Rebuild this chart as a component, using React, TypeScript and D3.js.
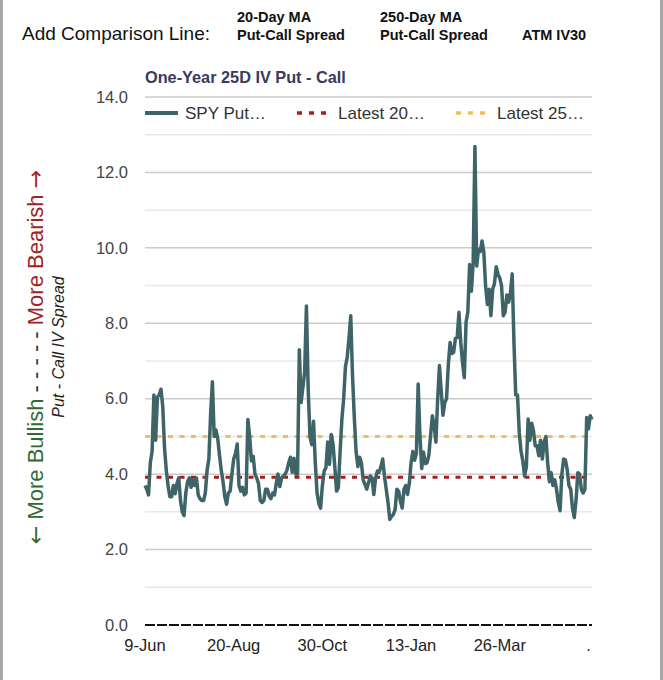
import React from "react";
import * as d3 from "d3";

const spread: number[] = [
  3.7, 3.6, 3.45, 4.3, 4.6, 6.1, 4.9, 6.05, 6.1, 6.25,
  5.8, 4.7, 4.1, 3.7, 3.4, 3.4, 3.7, 3.48, 3.75, 3.9,
  3.3, 3.0, 2.9, 3.5, 3.8, 3.9, 3.65, 3.85, 3.7, 3.9,
  3.45, 3.35, 3.3, 3.3, 3.5, 4.1, 4.4, 5.6, 6.45, 5.0,
  5.17, 4.95, 4.5, 4.1, 3.8, 3.4, 3.2, 3.5, 3.55, 4.0,
  4.4, 4.55, 4.8, 3.7, 3.55, 3.65, 3.45, 3.5, 5.45, 5.0,
  4.35, 4.47, 4.0, 3.9, 3.75, 3.3, 3.25, 3.3, 3.6, 3.6,
  3.42, 3.35, 3.5, 3.45, 3.75, 4.0, 3.67, 3.9, 3.95, 4.0,
  4.1, 4.3, 4.45, 4.05, 4.42, 4.0, 4.0, 7.3, 5.9, 6.3,
  6.7, 8.46, 6.25, 5.0, 4.78, 5.4, 4.3, 3.5, 3.22, 3.1,
  3.7, 4.08, 4.17, 4.85, 4.26, 5.05, 4.8, 4.2, 3.55, 3.64,
  4.6, 5.46, 6.0, 6.85, 7.1, 7.6, 8.2, 6.6, 5.5, 4.6,
  4.2, 4.45, 4.3, 3.85, 3.73, 3.6, 3.77, 3.95, 3.9, 3.46,
  3.9, 4.08, 4.05, 4.2, 4.4, 3.95, 3.6, 3.25, 2.8, 2.88,
  2.93, 3.06, 3.6, 3.55, 3.28, 3.1, 3.6, 3.7, 3.46, 3.75,
  4.3, 4.6, 4.37, 4.55, 6.39, 5.03, 4.15, 4.59, 4.28, 4.3,
  4.5, 5.03, 5.55, 5.3, 4.85, 6.0, 6.88, 6.2, 5.56, 5.9,
  6.0, 6.9, 7.49, 7.2, 7.23, 7.6, 7.62, 8.29, 7.5, 6.96,
  6.56, 8.03, 8.3, 9.56, 8.85, 9.6, 12.69, 9.52, 9.96, 9.9,
  10.18, 9.9, 9.0, 8.5, 8.9, 8.2, 8.9, 9.05, 9.5, 9.3,
  9.2, 9.0, 8.2, 8.3, 8.75, 8.56, 8.8, 9.31, 7.5, 6.1,
  6.1, 5.1, 4.6, 4.35, 3.95, 4.2, 5.46, 4.9, 5.35, 5.15,
  4.75, 4.75, 4.49, 4.9, 4.4, 4.85, 5.0, 4.3, 3.8, 4.04,
  3.7, 3.85, 3.6, 3.25, 3.03, 4.0, 4.4, 4.38, 4.13, 3.7,
  3.6, 3.1, 2.85, 3.3, 4.04, 4.0, 3.6, 3.5, 3.6, 5.5,
  5.2, 5.55, 5.45,
];

const latest20 = 3.92;
const latest250 = 5.0;

const xTickIndex: number[] = [0, 50, 100, 150, 200, 250];
const xTickLabels: string[] = ["9-Jun", "20-Aug", "30-Oct", "13-Jan", "26-Mar", "."];
const yTicks: number[] = [0, 2, 4, 6, 8, 10, 12, 14];
const yGrid: number[] = [1, 2, 3, 4, 5, 6, 7, 8, 9, 10, 11, 12, 13, 14];

const legendLabels: string[] = ["SPY Put…", "Latest 20…", "Latest 25…"];

export default function App() {
  const W = 663;
  const H = 680;
  const left = 145;
  const right = 592;
  const top = 97;
  const bottom = 625;
  const x = d3.scaleLinear().domain([0, spread.length - 1]).range([left, right]);
  const y = d3.scaleLinear().domain([0, 14]).range([bottom, top]);
  const line = d3
    .line<number>()
    .x((_, i) => x(i))
    .y((d) => y(d))
    .curve(d3.curveLinear);
  const font = "'Liberation Sans', Arial, Helvetica, sans-serif";
  const arrowFont = "'DejaVu Sans', sans-serif";
  const teal = "#3e6468";
  const red = "#a51f1f";
  const orange = "#f2bd5f";

  return (
    <svg
      width={W}
      height={H}
      style={{ position: "absolute", left: 0, top: 0, background: "#fff" }}
      fontFamily={font}
    >
      <rect x={0} y={0} width={W} height={H} fill="#fff" />
      <line x1={1.5} x2={1.5} y1={0} y2={H} stroke="#a8a8a8" strokeWidth={3} />
      <line x1={661.5} x2={661.5} y1={0} y2={H} stroke="#a8a8a8" strokeWidth={3} />

      {/* header */}
      <text x={22} y={40} fontSize={19} fill="#111">Add Comparison Line:</text>
      <text x={237} y={22} fontSize={14.5} fontWeight="bold" fill="#111">20-Day MA</text>
      <text x={237} y={40} fontSize={14.5} fontWeight="bold" fill="#111">Put-Call Spread</text>
      <text x={380} y={22} fontSize={14.5} fontWeight="bold" fill="#111">250-Day MA</text>
      <text x={380} y={40} fontSize={14.5} fontWeight="bold" fill="#111">Put-Call Spread</text>
      <text x={522} y={40} fontSize={14.5} fontWeight="bold" fill="#111">ATM IV30</text>

      {/* title */}
      <text x={145} y={83} fontSize={16.3} fontWeight="bold" fill="#3a3a5c">One-Year 25D IV Put - Call</text>

      {/* grid */}
      {yGrid.map((v) => (
        <line
          key={"g" + v}
          x1={left}
          x2={right}
          y1={y(v)}
          y2={y(v)}
          stroke={v % 2 === 0 ? "#cccccc" : "#e8e8e8"}
          strokeWidth={1.5}
        />
      ))}
      <line x1={left} x2={right} y1={y(0)} y2={y(0)} stroke="#111" strokeWidth={2} strokeDasharray="10,2" />

      {/* y tick labels */}
      {yTicks.map((v) => (
        <text key={"y" + v} x={128} y={y(v)} dy="0.35em" textAnchor="end" fontSize={16.5} fill="#444">
          {v.toFixed(1)}
        </text>
      ))}

      {/* x tick labels */}
      {xTickIndex.map((idx, k) => (
        <text key={"x" + k} x={x(idx)} y={651} textAnchor="middle" fontSize={16.5} fill="#222">
          {xTickLabels[k]}
        </text>
      ))}

      {/* axis titles */}
      <text
        transform={`translate(43, 357) rotate(-90)`}
        textAnchor="middle"
        fontSize={22}
      >
        <tspan fill="#2f6b2f" fontFamily={arrowFont}>←</tspan>
        <tspan fill="#2f6b2f">{" More Bullish"}</tspan>
        <tspan fill="#333">{" - - - - - "}</tspan>
        <tspan fill="#a02424">{"More Bearish "}</tspan>
        <tspan fill="#a02424" fontFamily={arrowFont}>→</tspan>
      </text>
      <text
        transform={`translate(64, 347) rotate(-90)`}
        textAnchor="middle"
        fontSize={16}
        fontStyle="italic"
        fill="#222"
      >
        Put - Call IV Spread
      </text>

      {/* reference lines */}
      <line x1={left} x2={right} y1={y(latest250)} y2={y(latest250)} stroke={orange} strokeWidth={3} strokeDasharray="5,6.5" />
      <line x1={left} x2={right} y1={y(latest20)} y2={y(latest20)} stroke={red} strokeWidth={3} strokeDasharray="5,6.5" />

      {/* main series */}
      <path d={line(spread) || ""} fill="none" stroke={teal} strokeWidth={3.5} strokeLinejoin="round" />

      {/* legend */}
      <rect x={145} y={100} width={450} height={26} fill="#fff" />
      <line x1={145} x2={178} y1={113} y2={113} stroke={teal} strokeWidth={4} />
      <text x={185} y={113} dy="0.35em" fontSize={17} fill="#333">{legendLabels[0]}</text>
      <line x1={297} x2={327} y1={113} y2={113} stroke={red} strokeWidth={3.5} strokeDasharray="5,7" />
      <text x={338} y={113} dy="0.35em" fontSize={17} fill="#333">{legendLabels[1]}</text>
      <line x1={456} x2={486} y1={113} y2={113} stroke={orange} strokeWidth={3.5} strokeDasharray="5,7" />
      <text x={497} y={113} dy="0.35em" fontSize={17} fill="#333">{legendLabels[2]}</text>
    </svg>
  );
}
